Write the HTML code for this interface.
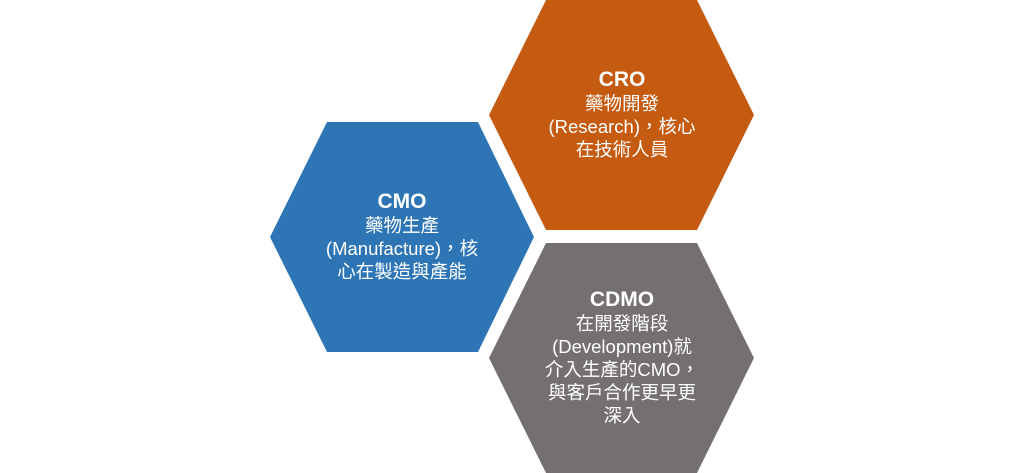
<!DOCTYPE html>
<html><head><meta charset="utf-8"><style>
html,body{margin:0;padding:0;background:#fff;width:1024px;height:473px;overflow:hidden;position:relative}
.t{position:absolute;width:260px;text-align:center;color:#fff;font-family:"Liberation Sans","Noto Sans CJK TC",sans-serif;font-size:18.5px;line-height:23px}
.t b{font-size:21px;display:block;line-height:24px}
.t div{white-space:nowrap}
</style></head><body>
<svg width="1024" height="473" style="position:absolute;left:0;top:0">
<polygon points="270,237 327,122 478,122 534,237 478,352 327,352" fill="#2E75B6"/>
<polygon points="489,115 546,0 697,0 754,115 697,230 546,230" fill="#C55A11"/>
<polygon points="489,358 546,243 697,243 754,358 697,473 546,473" fill="#757070"/>
</svg>
<div class="t" style="left:272px;top:190px"><b>CMO</b><div>藥物生產</div><div>(Manufacture)，核</div><div>心在製造與產能</div></div>
<div class="t" style="left:492px;top:68px"><b>CRO</b><div>藥物開發</div><div>(Research)，核心</div><div>在技術人員</div></div>
<div class="t" style="left:492px;top:288px"><b>CDMO</b><div>在開發階段</div><div>(Development)就</div><div>介入生產的CMO，</div><div>與客戶合作更早更</div><div>深入</div></div>
</body></html>
